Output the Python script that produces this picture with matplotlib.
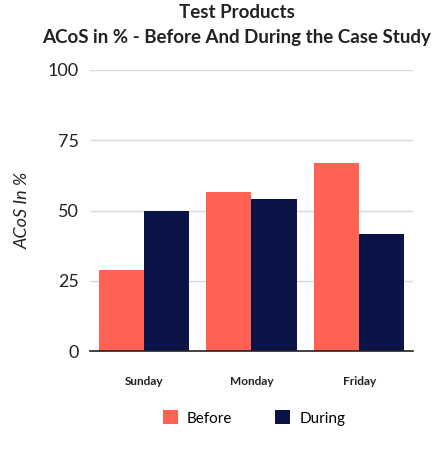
import matplotlib.pyplot as plt
import numpy as np

days = ["Sunday", "Monday", "Friday"]
before = [29, 56.5, 67]
during = [50, 54, 41.5]
yticks = [0, 25, 50, 75, 100]

plt.rcParams['font.family'] = ['Lato', 'DejaVu Sans']

fig = plt.figure(figsize=(4.38, 4.68), dpi=100)
ax = fig.add_axes([90 / 438, 1 - 351 / 468, 323 / 438, 281 / 468])

x = np.arange(len(days))
w = 0.42
ax.bar(x - w / 2, before, w, color="#FF6153", label="Before", zorder=3)
ax.bar(x + w / 2, during, w, color="#0B1446", label="During", zorder=3)

ax.set_xlim(-0.5, 2.5)
ax.set_ylim(0, 100)
ax.set_yticks(yticks)
ax.set_yticklabels([str(t) for t in yticks], fontsize=13, color="#222222")
ax.set_xticks(x)
ax.set_xticklabels(days, fontsize=8.5, fontweight="bold", color="#222222")
ax.tick_params(axis="both", length=0)
ax.tick_params(axis="x", pad=18)
ax.tick_params(axis="y", pad=8)
ax.yaxis.grid(True, color="#d9d9d9", linewidth=1, zorder=0)
for s in ["top", "right", "left"]:
    ax.spines[s].set_visible(False)
ax.spines["bottom"].set_color("#222222")
ax.spines["bottom"].set_linewidth(1.2)
ax.spines["bottom"].set_zorder(4)

ax.set_ylabel("ACoS In %", fontsize=13, fontstyle="italic", color="#222222")
ax.yaxis.set_label_coords(-0.185, 0.50)

fig.text(0.542, 1 - 12 / 468, "Test Products", ha="center", va="center",
         fontsize=13.5, fontweight="bold", color="#222222")
fig.text(0.541, 1 - 37 / 468, "ACoS in % - Before And During the Case Study", ha="center", va="center",
         fontsize=13.5, fontweight="bold", color="#222222")

fig.legend(loc="center", bbox_to_anchor=(0.58, 1 - 418 / 468), ncol=2, frameon=False,
           fontsize=11, handlelength=1.0, handleheight=1.0, columnspacing=2.8, handletextpad=0.6)

fig.savefig("out.png", dpi=100)
